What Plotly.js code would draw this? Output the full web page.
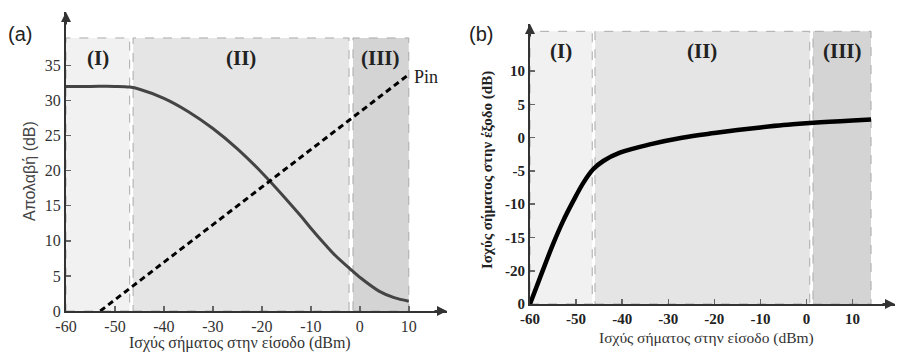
<!DOCTYPE html>
<html><head><meta charset="utf-8">
<script src="https://cdn.plot.ly/plotly-3.0.1.min.js"></script>
<style>html,body{margin:0;padding:0;background:#fff}#plot{width:900px;height:363px}</style>
</head><body><div id="plot"></div>
<script>
// Panel (a): gain vs input power
const gainX = [-60, -55, -50, -47, -45, -40, -35, -30, -25, -20, -15, -12, -10, -7, -5, -2, 0, 4, 7, 10];
const gainY = [32, 32, 32, 31.9, 31.6, 30.3, 28.4, 26, 23.1, 19.7, 15.9, 13.5, 11.8, 9.4, 7.9, 6.0, 4.8, 2.8, 1.9, 1.4];
const pinX = [-53, 10];
const pinY = [0, 33.7];
// Panel (b): output power vs input power
const outX = [-60, -57.8, -55, -52.8, -50.6, -48.4, -46.3, -44.1, -40.5, -34, -27, -20, -15, -10, -5, 0.7, 5, 10, 14];
const outY = [-25, -21, -16, -12.5, -9.5, -6.75, -4.75, -3.5, -2.25, -1.0, 0, 0.7, 1.15, 1.55, 1.9, 2.2, 2.4, 2.6, 2.75];
// Regions (I), (II), (III)
const regionNames = ['(I)', '(II)', '(III)'];
const regionsA = [[-60, -47], [-46.3, -2.2], [-1.4, 10]];
const regionsB = [[-60, -46.5], [-45.9, 0.7], [1.4, 14]];
const regionFill = ['#f1f1f1', '#e5e5e5', '#d4d4d4'];
const xTicks = [-60, -50, -40, -30, -20, -10, 0, 10];
const xTickText = ['-60', '-50', '-40', '-30', '-20', '-10', '0', '10'];
const yTicksA = [0, 5, 10, 15, 20, 25, 30, 35];
const yTicksB = [-25, -20, -15, -10, -5, 0, 5, 10];
const yTickTextB = ['0', '-20', '-15', '-10', '-5', '0', '5', '10'];

const serif = 'Liberation Serif, Times New Roman, serif';
const sans = 'Liberation Sans, Arial, sans-serif';
const axisColor = '#333';

const traces = [
  {x: gainX, y: gainY, xaxis: 'x', yaxis: 'y', mode: 'lines', line: {color: '#444', width: 3, shape: 'spline', smoothing: 1}, hoverinfo: 'skip'},
  {x: pinX, y: pinY, xaxis: 'x', yaxis: 'y', mode: 'lines', line: {color: '#000', width: 3, dash: '6px,4px'}, hoverinfo: 'skip'},
  {x: outX, y: outY, xaxis: 'x2', yaxis: 'y2', mode: 'lines', line: {color: '#000', width: 4.5, shape: 'spline', smoothing: 1}, hoverinfo: 'skip'}
];

const shapes = [];
const annotations = [];
function addRegions(regs, xr, yr, y0, y1, labelY) {
  regs.forEach((r, i) => {
    shapes.push({type: 'rect', xref: xr, yref: yr, x0: r[0], x1: r[1], y0: y0, y1: y1,
      fillcolor: regionFill[i], line: {color: '#aaa', width: 1, dash: 'dash'}, layer: 'below'});
    annotations.push({xref: xr, yref: yr, x: (r[0] + r[1]) / 2, y: labelY, text: '<b>' + regionNames[i] + '</b>',
      showarrow: false, xanchor: 'center', yanchor: 'middle', font: {family: serif, size: 21, color: '#222'}});
  });
}
addRegions(regionsA, 'x', 'y', 0, 38.9, 36.1);
addRegions(regionsB, 'x2', 'y2', -25, 16, 13.1);

// axis arrows
annotations.push({xref: 'x', yref: 'y', x: 17.8, y: 0, ax: -14, ay: 0, showarrow: true, arrowhead: 2, arrowsize: 1, arrowwidth: 2, arrowcolor: axisColor, text: ''});
annotations.push({xref: 'x', yref: 'y', x: -60, y: 42.6, ax: 0, ay: 14, showarrow: true, arrowhead: 2, arrowsize: 1, arrowwidth: 2, arrowcolor: axisColor, text: ''});
annotations.push({xref: 'x2', yref: 'y2', x: 19.2, y: -25, ax: -14, ay: 0, showarrow: true, arrowhead: 2, arrowsize: 1, arrowwidth: 2, arrowcolor: axisColor, text: ''});
annotations.push({xref: 'x2', yref: 'y2', x: -60, y: 17.1, ax: 0, ay: 14, showarrow: true, arrowhead: 2, arrowsize: 1, arrowwidth: 2, arrowcolor: axisColor, text: ''});

function paperText(px, py, text, font, angle) {
  annotations.push({xref: 'paper', yref: 'paper', x: px / 900, y: 1 - py / 363, text: text, showarrow: false,
    xanchor: 'center', yanchor: 'middle', textangle: angle || 0, font: font});
}
annotations.push({xref: 'x', yref: 'y', x: 10.6, y: 33.4, text: 'Pin', showarrow: false, xanchor: 'left', yanchor: 'middle', font: {family: serif, size: 18, color: '#222'}});
paperText(20, 34, '(a)', {family: sans, size: 20, color: '#222'});
paperText(481, 34, '(b)', {family: sans, size: 20, color: '#222'});
paperText(240, 343, 'Ισχύς σήματος στην είσοδο (dBm)', {family: serif, size: 16, color: '#333'});
paperText(706, 338, 'Ισχύς σήματος στην είσοδο (dBm)', {family: serif, size: 15.5, color: '#333'});
paperText(29, 171, 'Απολαβή (dB)', {family: sans, size: 16, color: '#444'}, -90);
paperText(487, 170, '<b>Ισχύς σήματος στην έξοδο (dB)</b>', {family: serif, size: 15, color: '#222'}, -90);

const tickFontA = {family: serif, size: 16, color: '#333'};
const tickFontB = {family: serif, size: 15, color: '#222', weight: 'bold'};
function xAxis(range, domain, anchor, font) {
  return {range: range, domain: domain, anchor: anchor, showline: true, linecolor: axisColor, linewidth: 2,
    ticks: 'inside', ticklen: 5, tickwidth: 1.5, tickcolor: '#666', tickvals: xTicks, ticktext: xTickText, showgrid: false, zeroline: false,
    tickfont: font, fixedrange: true};
}
function yAxis(range, domain, anchor, vals, text, font) {
  const a = {range: range, domain: domain, anchor: anchor, showline: true, linecolor: axisColor, linewidth: 2,
    ticks: 'inside', ticklen: 5, tickwidth: 1.5, tickcolor: '#666', tickvals: vals, showgrid: false, zeroline: false,
    tickfont: font, fixedrange: true};
  if (text) a.ticktext = text;
  return a;
}
const layout = {
  width: 900, height: 363, margin: {l: 0, r: 0, t: 0, b: 0}, showlegend: false,
  paper_bgcolor: '#fff', plot_bgcolor: 'rgba(0,0,0,0)',
  xaxis: xAxis([-60, 17.8], [66 / 900, 447 / 900], 'y', tickFontA),
  yaxis: yAxis([0, 42.6], [1 - 311 / 363, 1 - 12 / 363], 'x', yTicksA, null, tickFontA),
  xaxis2: xAxis([-60, 19.2], [530 / 900, 895 / 900], 'y2', tickFontB),
  yaxis2: yAxis([-25, 17.1], [1 - 304 / 363, 1 - 24 / 363], 'x2', yTicksB, yTickTextB, tickFontB),
  shapes: shapes, annotations: annotations
};
Plotly.newPlot('plot', traces, layout, {displayModeBar: false, staticPlot: true});
</script></body></html>
